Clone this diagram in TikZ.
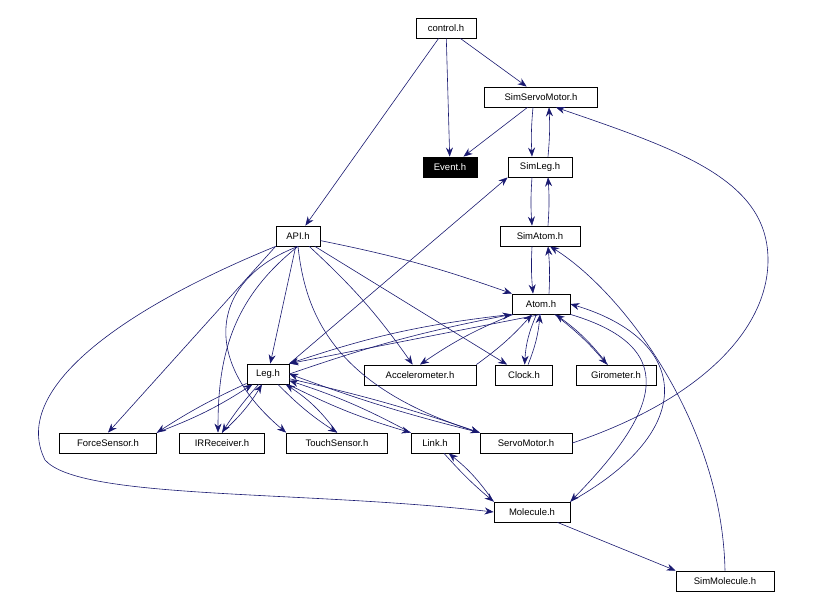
\documentclass[tikz,border=0pt]{standalone}
\usepackage{fontspec}
\setmainfont{Liberation Sans}
\usetikzlibrary{arrows.meta}
\definecolor{edge}{RGB}{25,25,112}
\begin{document}
\begin{tikzpicture}[x=1pt,y=-1pt,
  n/.style={draw=black,line width=0.8pt,fill=white,inner sep=0pt,minimum height=20pt,font=\fontsize{9.5}{11}\selectfont},
  e/.style={draw=edge,line width=0.6pt,-{Stealth[length=9pt,width=7pt]}},
  b/.style={e,bend left=8}]
\useasboundingbox (0,0) rectangle (838,609);
\node[n,minimum width=60pt] (control) at (446,28) {control.h};
\node[n,minimum width=113pt] (ssm) at (541,97) {SimServoMotor.h};
\node[n,minimum width=54pt,fill=black,text=white] (event) at (450,167) {Event.h};
\node[n,minimum width=64pt] (simleg) at (540,167) {SimLeg.h};
\node[n,minimum width=44pt] (api) at (298,236) {API.h};
\node[n,minimum width=80pt] (simatom) at (540,236) {SimAtom.h};
\node[n,minimum width=58pt] (atom) at (541,304) {Atom.h};
\node[n,minimum width=42pt] (leg) at (268,374) {Leg.h};
\node[n,minimum width=112pt] (acc) at (420,375) {Accelerometer.h};
\node[n,minimum width=57pt] (clock) at (524,375) {Clock.h};
\node[n,minimum width=80pt] (giro) at (616,375) {Girometer.h};
\node[n,minimum width=97pt] (force) at (108,443) {ForceSensor.h};
\node[n,minimum width=85pt] (ir) at (222,443) {IRReceiver.h};
\node[n,minimum width=101pt] (touch) at (337,443) {TouchSensor.h};
\node[n,minimum width=48pt] (link) at (435,443) {Link.h};
\node[n,minimum width=92pt] (servo) at (526,443) {ServoMotor.h};
\node[n,minimum width=76pt] (mol) at (532,512) {Molecule.h};
\node[n,minimum width=98pt] (simmol) at (725,581) {SimMolecule.h};

\draw[e] (control) -- (event);
\draw[e] (control) -- (ssm);
\draw[e] (control) -- (api);
\draw[e] (ssm) -- (event);
\draw[e] ([xshift=-8pt]ssm.south) to[bend right=4] ([xshift=-8pt]simleg.north);
\draw[e] ([xshift=8pt]simleg.north) to[bend right=4] ([xshift=8pt]ssm.south);
\draw[e] ([xshift=-8pt]simleg.south) to[bend right=4] ([xshift=-8pt]simatom.north);
\draw[e] ([xshift=8pt]simatom.north) to[bend right=4] ([xshift=8pt]simleg.south);
\draw[e] ([xshift=-8pt]simatom.south) to[bend right=4] ([xshift=-8pt]atom.north);
\draw[e] ([xshift=8pt]atom.north) to[bend right=4] ([xshift=8pt]simatom.south);
\draw[e] (leg.north east) -- (simleg.south west);
\draw[e] (servo.east) .. controls (700,400) and (768,330) .. (768,260) .. controls (768,180) and (680,150) .. ([xshift=15pt]ssm.south);
\draw[e] (simmol.north) .. controls (722,420) and (620,290) .. ([xshift=10pt]simatom.south);
\draw[e] (mol) -- (simmol.north west);

\draw[e] (api) -- (leg);
\draw[e] (api) to[bend left=4] (atom);
\draw[e] (api) to[bend left=6] (acc);
\draw[e] (api) -- (clock);
\draw[e] (api.south west) -- (force.north);
\draw[e] (api.south) .. controls (230,300) and (218,360) .. ([xshift=-4pt]ir.north);
\draw[e] (api.south) .. controls (210,280) and (200,360) .. (touch.north west);
\draw[e] (api.south) .. controls (305,310) and (330,385) .. (servo.north west);
\draw[e] (api.south west) .. controls (120,310) and (10,390) .. (45,460) .. controls (80,500) and (300,490) .. (mol.west);

\draw[e] (atom.south west) to[bend right=6] (leg.north east);
\draw[e] (leg.east) to[bend left=4] (atom.south west);
\draw[e] (atom.south) -- (leg.north east);
\draw[e] (atom) to[bend right=6] (acc.north);
\draw[e] (acc.north east) to[bend right=6] (atom);
\draw[e] (atom) to[bend right=10] (clock);
\draw[e] (clock) to[bend right=8] (atom);
\draw[e] (atom) to[bend left=6] (giro);
\draw[e] (giro) to[bend right=8] (atom);
\draw[e] (atom.south east) .. controls (690,350) and (650,420) .. (mol.north east);
\draw[e] (mol.north east) .. controls (700,430) and (690,340) .. (atom.east);

\draw[e] (leg) to[bend right=4] (force.north east);
\draw[e] (force.north east) to[bend right=6] (leg);
\draw[e] (leg) to[bend right=4] (ir.north);
\draw[e] (ir.north) to[bend right=8] (leg);
\draw[e] (leg) to[bend right=6] (touch.north);
\draw[e] (touch.north) to[bend right=10] (leg);
\draw[e] (leg) to[bend right=5] (link.north west);
\draw[e] (link.north west) to[bend right=5] (leg);
\draw[e] (leg) to[bend left=3] (servo.north west);
\draw[e] (servo.north west) to[bend left=3] (leg.east);
\draw[e] (link) to[bend right=4] (mol.north west);
\draw[e] (mol.north west) to[bend right=8] (link);
\end{tikzpicture}
\end{document}
